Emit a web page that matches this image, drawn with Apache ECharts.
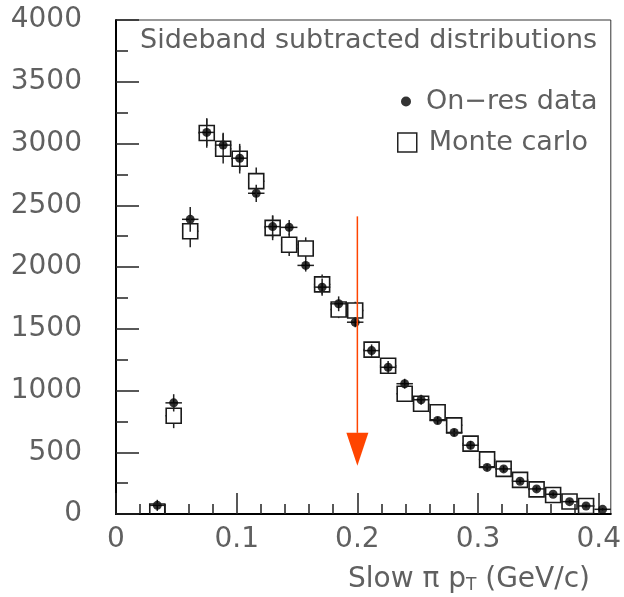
<!DOCTYPE html>
<html><head><meta charset="utf-8">
<script src="https://cdn.jsdelivr.net/npm/echarts@6/dist/echarts.min.js"></script>
<style>html,body{margin:0;padding:0;background:#fff}#c{width:624px;height:597px}</style>
</head><body><div id="c"></div>
<script>
// bin centres (30 bins from 0 to 0.41 GeV/c)
const binCenters = [0.0068, 0.0205, 0.0342, 0.0478, 0.0615, 0.0752, 0.0888, 0.1025, 0.1162, 0.1298,
  0.1435, 0.1572, 0.1708, 0.1845, 0.1982, 0.2118, 0.2255, 0.2392, 0.2528, 0.2665,
  0.2802, 0.2938, 0.3075, 0.3212, 0.3348, 0.3485, 0.3622, 0.3758, 0.3895, 0.4032];
const binWidth = 0.01367;
const dataValues = [null, null, 70, 900, 2386, 3090, 2987, 2881, 2597, 2327,
  2321, 2013, 1837, 1702, 1553, 1323, 1188, 1055, 925, 757,
  660, 557, 377, 365, 265, 203, 160, 100, 65, 38];
const dataErrors = [0, 0, 45, 70, 100, 110, 100, 100, 70, 90,
  60, 50, 70, 60, 40, 50, 50, 40, 40, 30,
  30, 35, 25, 25, 20, 20, 15, 15, 12, 10];
const mcValues = [null, null, 20, 795, 2289, 3085, 2958, 2877, 2695, 2317,
  2180, 2150, 1859, 1656, 1648, 1331, 1201, 974, 893, 824,
  718, 570, 442, 365, 276, 199, 154, 101, 65, null];
const mcErrors = [0, 0, 20, 100, 130, 120, 120, 120, 110, 100,
  90, 90, 80, 70, 70, 60, 60, 55, 50, 45,
  45, 40, 35, 35, 30, 25, 22, 20, 16, 0];
const xMajorTicks = [0, 0.1, 0.2, 0.3, 0.4];
const xMinorTicks = [0.02, 0.04, 0.06, 0.08, 0.12, 0.14, 0.16, 0.18, 0.22, 0.24, 0.26, 0.28,
  0.32, 0.34, 0.36, 0.38];
const arrowX = 0.2, arrowTop = 2410, arrowHeadTop = 657, arrowTip = 390;

const FONT = 'DejaVu Sans';
const TXT = '#606060';

const dataPts = [], mcPts = [];
binCenters.forEach((x, i) => {
  if (dataValues[i] !== null) dataPts.push([x, dataValues[i], dataErrors[i]]);
  if (mcValues[i] !== null) mcPts.push([x, mcValues[i], mcErrors[i]]);
});

function renderDataErr(params, api) {
  const x = api.value(0), y = api.value(1), e = api.value(2);
  const c = api.coord([x, y]);
  const top = api.coord([x, y + e])[1], bot = api.coord([x, y - e])[1];
  const hw = api.size([binWidth, 0])[0] / 2;
  const st = { stroke: '#222', lineWidth: 1.5 };
  return { type: 'group', children: [
    { type: 'line', shape: { x1: c[0], y1: top, x2: c[0], y2: bot }, style: st },
    { type: 'line', shape: { x1: c[0] - hw, y1: c[1], x2: c[0] + hw, y2: c[1] }, style: st }
  ]};
}
function renderMC(params, api) {
  const x = api.value(0), y = api.value(1), e = api.value(2);
  const c = api.coord([x, y]);
  const top = api.coord([x, y + e])[1], bot = api.coord([x, y - e])[1];
  const hw = api.size([binWidth, 0])[0] / 2;
  const h = 7.5;
  const st = { stroke: '#222', lineWidth: 1.5 };
  const ch = [
    { type: 'rect', shape: { x: c[0] - h, y: c[1] - h, width: 2 * h, height: 2 * h }, style: { fill: null, stroke: '#1a1a1a', lineWidth: 1.6 } },
    { type: 'line', shape: { x1: c[0] - hw, y1: c[1], x2: c[0] - h, y2: c[1] }, style: st },
    { type: 'line', shape: { x1: c[0] + h, y1: c[1], x2: c[0] + hw, y2: c[1] }, style: st }
  ];
  if (top < c[1] - h) ch.push({ type: 'line', shape: { x1: c[0], y1: top, x2: c[0], y2: c[1] - h }, style: st });
  if (bot > c[1] + h) ch.push({ type: 'line', shape: { x1: c[0], y1: c[1] + h, x2: c[0], y2: bot }, style: st });
  return { type: 'group', children: ch };
}
function renderArrow(params, api) {
  const x = api.value(0);
  const p1 = api.coord([x, api.value(1)]);
  const p2 = api.coord([x, api.value(2)]);
  const p3 = api.coord([x, api.value(3)]);
  return { type: 'group', children: [
    { type: 'line', shape: { x1: p1[0], y1: p1[1], x2: p2[0], y2: p2[1] }, style: { stroke: '#ff4500', lineWidth: 1.5 } },
    { type: 'polygon', shape: { points: [[p2[0] - 11, p2[1]], [p2[0] + 11, p2[1]], [p3[0], p3[1]]] }, style: { fill: '#ff4500' } }
  ]};
}

const chart = echarts.init(document.getElementById('c'), null, { renderer: 'canvas' });
chart.setOption({
  animation: false,
  backgroundColor: '#fff',
  title: { text: 'Sideband subtracted distributions', left: 140, top: 27, padding: 0,
    textStyle: { fontSize: 27, fontWeight: 'normal', color: TXT, fontFamily: FONT } },
  legend: [
    { data: [{ name: 'On−res data', icon: 'circle' }], left: 401, top: 88, itemWidth: 22, itemHeight: 10,
      selectedMode: false, padding: 0, textStyle: { fontSize: 27, color: TXT, fontFamily: FONT, padding: [0, 0, 0, 4] } },
    { data: [{ name: 'Monte carlo', icon: 'rect', itemStyle: { color: 'rgba(0,0,0,0)', borderColor: '#222', borderWidth: 1.5 } }],
      left: 397, top: 129, itemWidth: 19, itemHeight: 19,
      selectedMode: false, padding: 0, textStyle: { fontSize: 27, color: TXT, fontFamily: FONT, padding: [0, 0, 0, 7] } }
  ],
  grid: { left: 116, right: 9, top: 20, bottom: 83, show: true, borderColor: '#333', borderWidth: 1 },
  xAxis: [
    { type: 'value', min: 0, max: 0.41, interval: 0.1,
      axisLine: { show: true, onZero: false, lineStyle: { color: '#000', width: 2 } },
      axisTick: { show: true, inside: true, length: 21, customValues: xMajorTicks, lineStyle: { color: '#222', width: 1.5 } },
      axisLabel: { customValues: xMajorTicks, margin: 12, fontSize: 28, color: TXT, fontFamily: FONT },
      splitLine: { show: false } },
    { type: 'value', min: 0, max: 0.41, position: 'bottom',
      axisLine: { show: false }, axisLabel: { show: false }, splitLine: { show: false },
      axisTick: { show: true, inside: true, length: 10, customValues: xMinorTicks, lineStyle: { color: '#222', width: 1.5 } } }
  ],
  yAxis: { type: 'value', min: 0, max: 4000, interval: 500,
    axisLine: { show: true, lineStyle: { color: '#000', width: 2 } },
    axisTick: { show: true, inside: true, length: 23, lineStyle: { color: '#222', width: 1.5 } },
    minorTick: { show: true, splitNumber: 2, length: 12, lineStyle: { color: '#222', width: 1.5 } },
    axisLabel: { margin: 34, fontSize: 28, color: TXT, fontFamily: FONT, formatter: v => String(v) },
    splitLine: { show: false } },
  series: [
    { type: 'custom', name: 'dataErr', renderItem: renderDataErr, data: dataPts, encode: { x: 0, y: 1 }, clip: true, silent: true, z: 2 },
    { type: 'scatter', name: 'On−res data', data: dataPts, symbol: 'circle', symbolSize: 9, itemStyle: { color: '#000' }, z: 3, silent: true },
    { type: 'custom', name: 'Monte carlo', renderItem: renderMC, data: mcPts, encode: { x: 0, y: 1 }, clip: true, silent: true, z: 4,
      itemStyle: { color: 'rgba(0,0,0,0)', borderColor: '#222', borderWidth: 1.5 } },
    { type: 'custom', name: 'arrow', renderItem: renderArrow, data: [[arrowX, arrowTop, arrowHeadTop, arrowTip]], encode: { x: 0, y: 1 }, silent: true, z: 5 }
  ],
  graphic: [
    { type: 'text', x: 590, y: 580, silent: true,
      style: { text: '{a|Slow π p}{b|T}{a| (GeV/c)}', align: 'right', verticalAlign: 'middle', fill: TXT, fontFamily: FONT, fontSize: 28,
        rich: { a: { fontSize: 28, fill: TXT, fontFamily: FONT }, b: { fontSize: 17, fill: TXT, fontFamily: FONT, padding: [12, 0, 0, 0] } } } }
  ]
});
</script></body></html>
